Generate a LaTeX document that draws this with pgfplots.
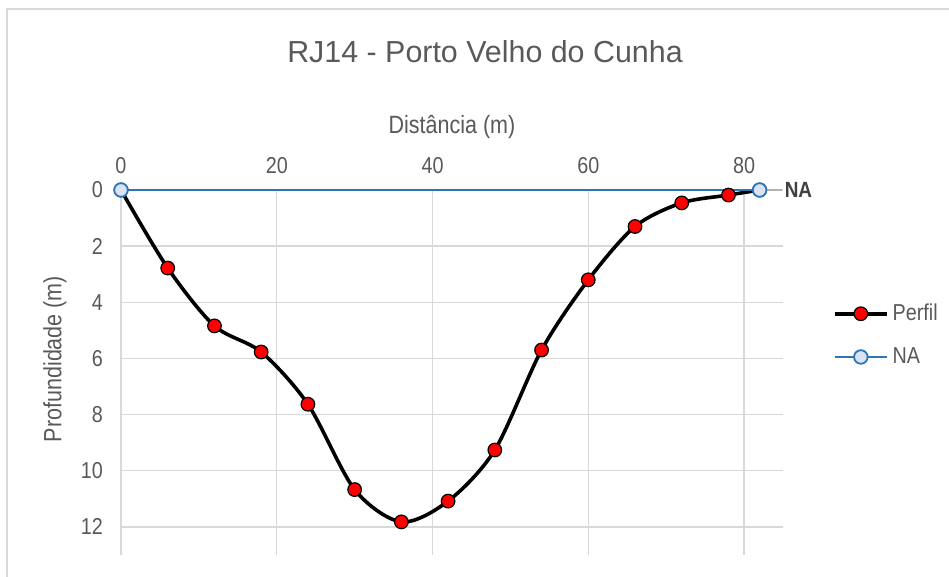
\documentclass[border=0pt]{standalone}
\usepackage{fontspec}
\setmainfont{Liberation Sans}
\newfontfamily\cond{Liberation Sans}[FakeStretch=0.86]
\usepackage{pgfplots}
\pgfplotsset{compat=1.18}
\definecolor{txt}{HTML}{595959}
\definecolor{gridc}{HTML}{D9D9D9}
\definecolor{nablue}{HTML}{2E75B6}
\definecolor{nafill}{HTML}{DAE3F3}

\begin{document}
\begin{tikzpicture}
\path[use as bounding box] (0,0) rectangle (474.5pt,-288.5pt);
\draw[gridc, line width=1pt] (3.5pt,-288.5pt) -- (3.5pt,-4.5pt) -- (474.5pt,-4.5pt);
\node[txt, font=\fontsize{15.2}{18}\selectfont] at (242.5pt,-26pt) {RJ14 - Porto Velho do Cunha};
\node[txt, font=\cond\fontsize{12.5}{15}\selectfont] at (226pt,-63.5pt) {Distância (m)};
\node[txt, font=\cond\fontsize{12.5}{15}\selectfont, rotate=90] at (27.5pt,-179.5pt) {Profundidade (m)};
\begin{axis}[
  at={(60.5pt,-95pt)}, anchor=north west,
  scale only axis, width=331pt, height=182.5pt,
  xmin=0, xmax=85, ymin=0, ymax=13, y dir=reverse,
  xtick={0,20,40,60,80}, ytick={0,2,4,6,8,10,12},
  xticklabel pos=upper,
  axis line style={draw=none}, tick style={draw=none},
  grid=major, major grid style={gridc, line width=0.7pt},
  clip=false,
  /pgf/number format/assume math mode=true,
  ticklabel style={font=\cond\fontsize{11.5}{13}\selectfont, text=txt},
  xticklabel style={yshift=4.5pt},
  yticklabel style={xshift=-5.5pt},
  legend style={at={(1.075,0.70)}, anchor=north west, draw=none, fill=none,
    font=\cond\fontsize{11.5}{14}\selectfont, text=txt, row sep=8pt,
    inner sep=0pt},
  legend cell align=left,
  legend image code/.code={\draw[mark repeat=2,mark phase=2] plot coordinates {(0pt,0pt) (13pt,0pt) (26pt,0pt)};},
]
\addplot[black, line width=1.8pt, smooth, mark=*, mark size=3.4pt,
  mark options={fill=red, draw=black, line width=0.6pt}]
  coordinates {(0,0) (6,2.78) (12,4.84) (18,5.77) (24,7.63) (30,10.67) (36,11.82) (42,11.08) (48,9.26) (54,5.7) (60,3.2) (66,1.3) (72,0.46) (78,0.18) (82,0)};
\addlegendentry{Perfil}
\addplot[nablue, line width=1.4pt, mark=*, mark size=3.4pt,
  mark options={fill=nafill, draw=nablue, line width=0.9pt}]
  coordinates {(0,0) (82,0)};
\addlegendentry{NA}
\draw[gray!60, line width=0.6pt] (axis cs:82,0) ++(3.8pt,0) -- ++(7.5pt,0)
  node[anchor=west, inner sep=1pt, text=black!75, font=\cond\bfseries\fontsize{11}{13}\selectfont] {NA};
\end{axis}
\end{tikzpicture}
\end{document}
